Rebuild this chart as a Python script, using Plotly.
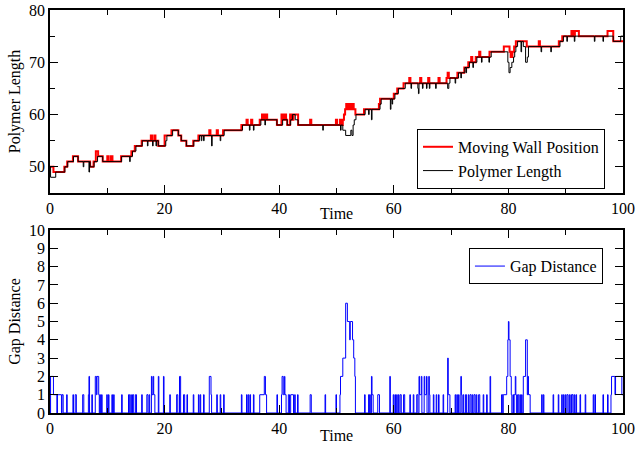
import plotly.graph_objects as go

# (time, wall position) step change points - red
wall_steps = [
(0,50),(0.6,49),(2.5,50),(3.0,51),(4.0,52),(4.9,51),(7.0,50),(7.6,51),(8.0,53),(8.4,52),(9.2,51),
(10.0,52),(10.2,51),(10.6,52),(10.9,51),(12.4,52),(14.2,53),(14.8,54),(16.0,55),(17.6,56),(17.8,55),
(18.2,56),(18.4,55),(18.9,54),(20.0,56),(21.2,57),(22.4,56),(22.9,55),(23.8,54),(25.0,55),(25.9,56),
(27.8,57),(28.0,56),(29.1,57),(29.3,56),(30.2,57),(33.4,58),(34.3,59),(34.5,58),(35.1,59),(35.3,58),
(36.6,59),(37.0,60),(37.3,59),(37.6,60),(37.9,59),(39.6,58),(40.4,60),(40.7,59),(40.9,60),(41.2,59),
(41.4,58),(41.9,60),(42.2,59),(42.5,60),(43.3,58),(45.4,59),(45.6,58),(49.9,59),(50.1,58),(50.6,59),
(50.8,58),(51.1,59),(51.3,60),(51.5,61),(51.7,62),(52.0,61),(52.3,62),(52.5,61),(52.8,62),(53.0,61),
(53.3,60),(54.8,61),(57.4,62),(57.6,63),(60.0,64),(60.6,65),(61.7,66),(62.7,67),(62.9,66),(64.6,67),
(64.8,66),(66.0,67),(66.2,66),(67.8,67),(68.0,66),(69.2,67),(69.4,68),(69.6,67),(71.1,68),(72.3,69),
(73.0,70),(73.5,71),(73.7,70),(74.3,71),(74.9,72),(75.1,71),(76.7,72),(79.2,73),(80.2,72),(80.4,71),
(80.7,72),(81.0,73),(81.3,74),(83.2,73),(85.3,74),(85.5,73),(88.8,74),(89.4,75),(91.0,76),(91.3,75),
(91.6,76),(92.3,75),(97.3,76),(98.3,74),(100,74)
]

# (time, polymer length) step change points - black
poly_steps = [
(0,50),(0.1,48),(1.0,49),(2.6,50),(3.1,51),(4.1,52),(4.9,51),(5.8,50),(5.9,51),(6.8,49),(6.9,51),
(7.0,50),(7.7,51),(8.3,52),(9.2,51),(12.5,52),(13.9,51),(14.0,52),(14.4,53),(15.0,54),(16.1,55),
(17.0,54),(17.1,55),(17.9,54),(18.0,55),(18.5,54),(18.6,55),(18.9,54),(20.2,55),(20.4,56),(21.4,57),
(22.4,56),(22.9,55),(23.8,54),(25.1,55),(26.1,56),(26.4,55),(26.5,56),(26.8,55),(26.9,56),(28.2,54),
(28.3,56),(29.7,55),(29.8,56),(30.4,57),(33.6,58),(34.8,57),(34.9,58),(35.5,57),(35.6,58),(36.8,59),
(37.5,58),(37.6,59),(39.6,58),(40.6,59),(41.4,58),(42.0,59),(42.3,60),(42.8,59),(43.3,58),(47.6,57),
(47.7,58),(50.7,57),(50.8,58),(51.1,57),(51.6,56),(52.5,57),(52.7,56),(52.9,58),(53.1,59),(53.4,60),
(55.0,61),(55.6,60),(55.7,61),(56.1,59),(56.2,61),(57.6,62),(57.8,63),(59.4,61),(59.5,63),(59.7,62),
(59.8,63),(60.2,64),(60.8,65),(62.0,66),(63.0,65),(63.1,66),(64.2,65),(64.3,64),(64.4,66),(65.0,65),
(65.1,66),(65.7,65),(65.8,66),(66.2,65),(66.3,66),(67.3,65),(67.4,66),(69.4,65),(69.6,66),(69.8,67),
(70.7,66),(70.8,67),(71.3,68),(71.7,67),(71.8,68),(72.4,69),(72.6,68),(72.7,69),(73.2,70),(73.8,69),
(73.9,70),(74.5,71),(75.3,70),(75.4,71),(76.6,70),(76.7,71),(77.0,72),(79.9,70),(80.1,68),(80.3,69),
(80.6,70),(80.9,71),(81.1,72),(81.3,73),(81.6,74),(82.2,72),(82.3,74),(82.6,73),(83.0,70),(83.3,71),
(83.5,73),(85.7,72),(85.8,73),(87.4,72),(87.5,73),(89.0,74),(89.6,75),(90.2,74),(90.3,75),(91.5,74),
(91.6,75),(95.0,74),(95.1,75),(96.5,74),(96.6,75),(98.3,74),(99.6,75),(100,75)
]

# (time, gap distance) step change points - blue
gap_steps = [
(0,0),(0.1,2),(0.6,1),(1.2,0),(1.3,1),(2.0,0),(2.1,1),(2.3,0),(2.9,1),(3.0,0),(4.0,1),(4.1,0),(4.4,1),
(4.6,0),(5.7,1),(5.9,0),(6.7,1),(6.8,2),(6.9,0),(7.3,1),(7.4,0),(7.9,2),(8.1,1),(8.2,2),(8.5,1),(8.6,0),
(8.7,1),(8.8,0),(9.0,1),(9.1,0),(9.9,1),(10.0,0),(10.2,1),(10.3,0),(10.8,1),(10.9,0),(11.1,1),(11.2,0),
(12.5,1),(12.6,0),(13.7,1),(13.9,0),(14.1,1),(14.2,0),(14.4,1),(14.6,0),(14.9,1),(15.1,0),(16.0,1),
(16.1,0),(16.9,1),(17.1,0),(17.3,1),(17.4,0),(17.7,2),(17.8,1),(18.0,2),(18.1,1),(18.3,0),(18.9,2),
(19.0,0),(19.8,2),(19.9,0),(20.9,1),(21.0,0),(22.1,1),(22.3,0),(22.6,2),(22.8,0),(23.3,1),(23.5,0),
(23.9,1),(24.0,0),(25.0,1),(25.1,0),(25.9,1),(26.0,0),(26.2,1),(26.3,0),(26.8,1),(26.9,0),(27.8,2),
(28.1,1),(28.2,0),(29.1,1),(29.2,0),(29.7,1),(29.8,0),(30.3,1),(30.4,0),(33.4,1),(33.5,0),(34.3,1),
(34.4,0),(34.6,1),(34.7,0),(34.9,1),(35.0,0),(35.5,1),(35.6,0),(36.6,1),(37.4,2),(37.6,1),(37.8,0),
(39.6,1),(39.7,0),(40.4,1),(40.5,2),(40.7,1),(40.9,2),(41.0,1),(41.2,0),(41.6,1),(41.8,0),(42.0,1),
(42.5,0),(42.7,1),(42.8,0),(43.2,1),(43.3,0),(45.4,1),(45.6,0),(48.0,1),(48.1,0),(49.9,1),(50.0,0),
(50.6,1),(50.7,2),(51.1,3),(51.6,6),(51.9,5),(52.3,4),(52.4,5),(52.8,4),(53.0,3),(53.2,2),(53.3,0),
(54.9,1),(55.0,0),(55.6,1),(55.7,0),(55.8,1),(55.9,0),(56.1,2),(56.2,1),(56.4,0),(57.2,1),(57.5,0),
(59.3,2),(59.4,0),(59.9,1),(60.0,0),(60.2,1),(60.3,0),(60.5,1),(60.6,0),(60.8,1),(60.9,0),(61.1,1),
(61.3,0),(61.7,1),(61.9,0),(62.8,1),(62.9,0),(63.4,1),(63.5,0),(64.0,1),(64.2,0),(64.4,2),(64.5,1),
(64.8,2),(64.9,0),(65.3,2),(65.4,1),(65.7,2),(65.8,0),(66.1,2),(66.2,1),(66.3,0),(66.9,1),(67.0,0),
(67.4,1),(67.5,0),(67.8,1),(67.9,0),(68.6,1),(68.7,0),(69.4,3),(69.5,1),(69.8,0),(70.7,1),(70.8,0),
(71.0,1),(71.1,0),(71.3,1),(71.4,0),(71.7,2),(71.8,1),(71.9,0),(72.1,1),(72.2,0),(72.5,1),(72.7,0),
(73.0,1),(73.1,0),(73.3,1),(73.5,0),(73.7,1),(73.8,0),(74.0,1),(74.2,0),(74.4,1),(74.5,0),(74.8,1),
(75.0,0),(75.6,1),(75.7,0),(76.2,1),(76.3,0),(76.8,2),(76.9,0),(78.8,1),(79.0,0),(79.1,1),(79.7,2),
(79.9,4),(80.0,5),(80.1,4),(80.3,2),(80.5,1),(80.6,0),(80.8,1),(80.9,0),(81.0,1),(81.2,2),(81.3,1),
(81.4,0),(81.6,1),(81.8,0),(82.0,1),(82.1,0),(82.3,1),(82.4,0),(82.6,2),(83.0,4),(83.3,1),(83.4,2),
(83.5,1),(83.8,0),(85.8,1),(85.9,0),(86.1,1),(86.2,0),(87.8,1),(87.9,0),(88.7,1),(88.8,0),(89.3,1),
(89.4,0),(89.6,1),(89.7,0),(89.9,1),(90.0,0),(90.2,1),(90.4,0),(90.6,1),(90.7,0),(90.9,1),(91.0,0),
(91.1,1),(91.3,0),(91.5,1),(91.6,0),(91.8,1),(91.9,0),(92.5,1),(92.6,0),(93.4,1),(93.5,0),(94.8,1),
(94.9,0),(95.1,1),(95.2,0),(96.5,1),(96.6,0),(97.3,1),(97.4,0),(97.9,1),(98.0,2),(98.6,1),(98.7,2),
(99.8,1),(100,1)
]

x_ticks = [0, 20, 40, 60, 80, 100]
top_y_ticks = [50, 60, 70, 80]
gap_y_ticks = list(range(0, 11))

FONT = "Liberation Serif"

wall_t, wall_v = zip(*wall_steps)
poly_t, poly_v = zip(*poly_steps)
gap_t, gap_v = zip(*gap_steps)

fig = go.Figure()
fig.add_trace(go.Scatter(x=wall_t, y=wall_v, mode="lines", line=dict(color="#ff0000", width=2, shape="hv"),
                         name="Moving Wall Position", xaxis="x", yaxis="y", legend="legend"))
fig.add_trace(go.Scatter(x=poly_t, y=poly_v, mode="lines", line=dict(color="#000000", width=1, shape="hv"),
                         name="Polymer Length", xaxis="x", yaxis="y", legend="legend"))
fig.add_trace(go.Scatter(x=gap_t, y=gap_v, mode="lines", line=dict(color="#0000ff", width=1, shape="hv"),
                         name="Gap Distance", xaxis="x2", yaxis="y2", legend="legend2"))

axis_common = dict(showline=True, linecolor="black", linewidth=1.5, mirror="allticks",
                   ticks="inside", tickcolor="black", tickwidth=1, showgrid=False, zeroline=False,
                   automargin=False,
                   tickfont=dict(family=FONT, size=16, color="black"))

fig.update_layout(
    width=636, height=449,
    margin=dict(l=50, r=13, t=10, b=36),
    paper_bgcolor="white", plot_bgcolor="white",
    font=dict(family=FONT, size=16, color="black"),
    xaxis=dict(domain=[0, 1], range=[0, 100], anchor="y", tickvals=x_ticks, ticklen=8,
               minor=dict(dtick=10, tick0=0, ticklen=5, ticks="inside", tickcolor="black", showgrid=False),
               **axis_common),
    yaxis=dict(domain=[0.546, 1], range=[45, 80], anchor="x", tickvals=top_y_ticks, ticklen=8,
               minor=dict(dtick=5, tick0=0, ticklen=5, ticks="inside", tickcolor="black", showgrid=False),
               title=dict(text="Polymer Length", font=dict(family=FONT, size=16), standoff=4), **axis_common),
    xaxis2=dict(domain=[0, 1], range=[0, 100], anchor="y2", tickvals=x_ticks, ticklen=8,
                minor=dict(dtick=10, tick0=0, ticklen=5, ticks="inside", tickcolor="black", showgrid=False),
                **axis_common),
    yaxis2=dict(domain=[0, 0.454], range=[0, 10], anchor="x2", tickvals=gap_y_ticks, ticklen=8,
                title=dict(text="Gap Distance", font=dict(family=FONT, size=16), standoff=4), **axis_common),
    legend=dict(x=0.9686, xanchor="right", y=0.705, yanchor="top", bgcolor="white",
                bordercolor="black", borderwidth=1, font=dict(family=FONT, size=16),
                tracegroupgap=0),
    legend2=dict(x=0.965, xanchor="right", y=0.409, yanchor="top", bgcolor="white",
                 bordercolor="black", borderwidth=1, font=dict(family=FONT, size=16)),
    showlegend=True,
    annotations=[
        dict(text="Time", xref="paper", yref="paper", x=0.5, y=0.494, xanchor="center", yanchor="middle",
             showarrow=False, font=dict(family=FONT, size=16, color="black")),
        dict(text="Time", xref="paper", yref="paper", x=0.5, y=-0.057, xanchor="center", yanchor="middle",
             showarrow=False, font=dict(family=FONT, size=16, color="black")),
    ],
)

fig.write_html("out.html", config={"displayModeBar": False},
               post_script="document.body.style.margin='0';")
